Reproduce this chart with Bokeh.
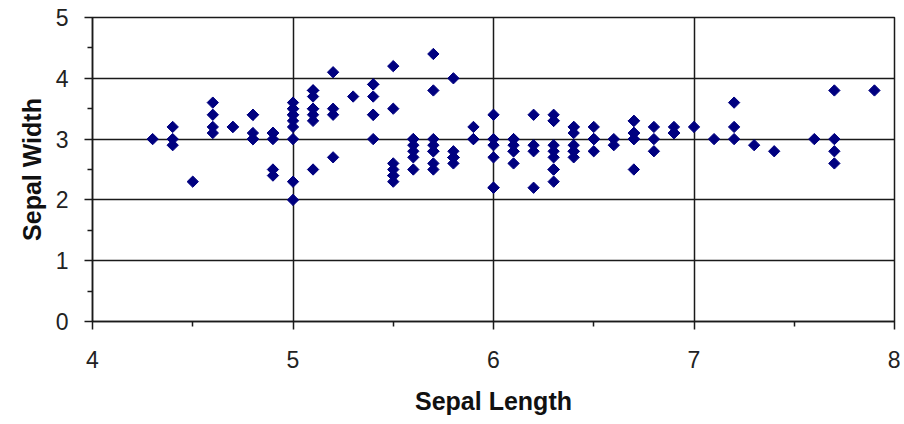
import math
from bokeh.plotting import figure
from bokeh.models import FixedTicker, Range1d, ColumnDataSource
from bokeh.embed import file_html
from bokeh.resources import INLINE

# Iris data: sepal length / sepal width (as plotted)
sepal_length = [
    5.1, 4.9, 4.7, 4.6, 5.0, 5.4, 4.6, 5.0, 4.4, 4.9, 5.4, 4.8, 4.8, 4.3, 5.8, 5.7, 5.4, 5.1, 5.7, 5.1,
    5.4, 5.1, 4.6, 5.1, 4.8, 5.0, 5.0, 5.2, 5.2, 4.7, 4.8, 5.4, 5.2, 5.5, 4.9, 5.0, 5.5, 4.9, 4.4, 5.1,
    5.0, 4.5, 4.4, 5.0, 5.1, 4.8, 5.1, 4.6, 5.3, 5.0,
    7.0, 6.4, 6.9, 5.5, 6.5, 5.7, 6.3, 4.9, 6.6, 5.2, 5.0, 5.9, 6.0, 6.1, 5.6, 6.7, 5.6, 5.8, 6.2, 5.6,
    5.9, 6.1, 6.3, 6.1, 6.4, 6.6, 6.8, 6.7, 6.0, 5.7, 5.5, 5.5, 5.8, 6.0, 5.4, 6.0, 6.7, 6.3, 5.6, 5.5,
    5.5, 6.1, 5.8, 5.0, 5.6, 5.7, 5.7, 6.2, 5.1, 5.7,
    6.3, 5.8, 7.1, 6.3, 6.5, 7.6, 4.9, 7.3, 6.7, 7.2, 6.5, 6.4, 6.8, 5.7, 5.8, 6.4, 6.5, 7.7, 7.7, 6.0,
    6.9, 5.6, 7.7, 6.3, 6.7, 7.2, 6.2, 6.1, 6.4, 7.2, 7.4, 7.9, 6.4, 6.3, 6.1, 7.7, 6.3, 6.4, 6.0, 6.9,
    6.7, 6.9, 5.8, 6.8, 6.7, 6.7, 6.3, 6.5, 6.2, 5.9,
]
sepal_width = [
    3.5, 3.0, 3.2, 3.1, 3.6, 3.9, 3.4, 3.4, 2.9, 3.1, 3.7, 3.4, 3.0, 3.0, 4.0, 4.4, 3.9, 3.5, 3.8, 3.8,
    3.4, 3.7, 3.6, 3.3, 3.4, 3.0, 3.4, 3.5, 3.4, 3.2, 3.1, 3.4, 4.1, 4.2, 3.1, 3.2, 3.5, 3.1, 3.0, 3.4,
    3.5, 2.3, 3.2, 3.5, 3.8, 3.0, 3.8, 3.2, 3.7, 3.3,
    3.2, 3.2, 3.1, 2.3, 2.8, 2.8, 3.3, 2.4, 2.9, 2.7, 2.0, 3.0, 2.2, 2.9, 2.9, 3.1, 3.0, 2.7, 2.2, 2.5,
    3.2, 2.8, 2.5, 2.8, 2.9, 3.0, 2.8, 3.0, 2.9, 2.6, 2.4, 2.4, 2.7, 2.7, 3.0, 3.4, 3.1, 2.3, 3.0, 2.5,
    2.6, 3.0, 2.6, 2.3, 2.7, 3.0, 2.9, 2.9, 2.5, 2.8,
    3.3, 2.7, 3.0, 2.9, 3.0, 3.0, 2.5, 2.9, 2.5, 3.6, 3.2, 2.7, 3.0, 2.5, 2.8, 3.2, 3.0, 3.8, 2.6, 2.2,
    3.2, 2.8, 2.8, 2.7, 3.3, 3.2, 2.8, 3.0, 2.8, 3.0, 2.8, 3.8, 2.8, 2.8, 2.6, 3.0, 3.4, 3.1, 3.0, 3.1,
    3.1, 3.1, 2.7, 3.2, 3.3, 3.0, 2.5, 3.0, 3.4, 3.0,
]
x_ticks = [4, 5, 6, 7, 8]
x_minor = [4.5, 5.5, 6.5, 7.5]
y_ticks = [0, 1, 2, 3, 4, 5]
y_minor = [0.5, 1.5, 2.5, 3.5, 4.5]

FONT = "Liberation Sans"

p = figure(width=900, height=422, output_backend="svg", toolbar_location=None,
           x_range=Range1d(4, 8), y_range=Range1d(0, 5),
           min_border_left=92, min_border_right=6, min_border_top=17, min_border_bottom=101)
p.background_fill_color = "white"
p.border_fill_color = "white"
p.outline_line_color = "#1a1a1a"
p.outline_line_width = 1.5

src = ColumnDataSource(dict(x=sepal_length, y=sepal_width))
p.scatter("x", "y", source=src, marker="square", angle=math.pi / 4, size=8,
          fill_color="#000080", line_color="#000080")

p.xaxis.ticker = FixedTicker(ticks=x_ticks, minor_ticks=x_minor)
p.yaxis.ticker = FixedTicker(ticks=y_ticks, minor_ticks=y_minor)

for ax in (p.xaxis[0], p.yaxis[0]):
    ax.axis_line_color = "#1a1a1a"
    ax.axis_line_width = 1.5
    ax.major_tick_line_color = "#1a1a1a"
    ax.major_tick_line_width = 1.5
    ax.major_tick_in = 0
    ax.major_tick_out = 8
    ax.minor_tick_line_color = "#1a1a1a"
    ax.minor_tick_line_width = 1.5
    ax.minor_tick_in = 0
    ax.minor_tick_out = 5
    ax.major_label_text_font = FONT
    ax.major_label_text_font_size = "23px"
    ax.major_label_text_color = "#222222"
    ax.axis_label_text_font = FONT
    ax.axis_label_text_font_size = "25px"
    ax.axis_label_text_font_style = "bold"
    ax.axis_label_text_color = "#111111"

p.xaxis.axis_label = "Sepal Length"
p.yaxis.axis_label = "Sepal Width"
p.xaxis.major_label_standoff = 21
p.xaxis.axis_label_standoff = 16
p.yaxis.major_label_standoff = 16
p.yaxis.axis_label_standoff = 7

for g in (p.xgrid[0], p.ygrid[0]):
    g.grid_line_color = "#1a1a1a"
    g.grid_line_width = 1.5

open("out.html", "w").write(file_html(p, INLINE))
